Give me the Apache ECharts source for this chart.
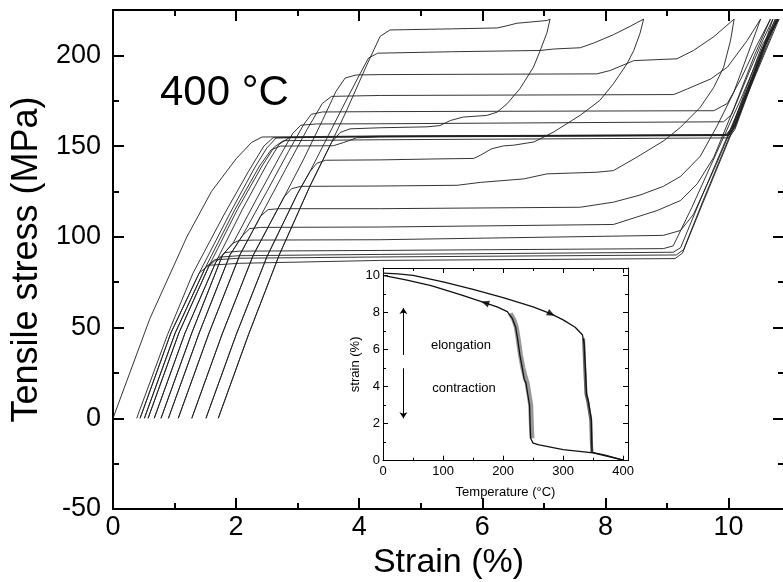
<!DOCTYPE html>
<html><head><meta charset="utf-8">
<script src="https://cdn.jsdelivr.net/npm/echarts@6/dist/echarts.min.js"></script>
<style>html,body{margin:0;padding:0;background:#fff}#c{width:783px;height:582px}</style>
</head><body><div id="c"></div>
<script>
// ---- main plot: stress-strain curves [strain %, stress MPa] ----
const c215 = [[1.71,0],[2.2,46],[2.7,90],[3.2,128],[3.55,152],[3.8,170],[4.1,193],[4.34,210.5],[4.5,214],[5.5,214.6],[6.24,215.1],[6.4,216.3],[6.56,217.7],[7.05,219.2],[7.1,220]];
const c160 = [[1.71,0],[2.2,46],[2.7,90],[3.2,128],[3.55,152],[3.69,157.5],[3.85,159.5],[4.34,160.1],[5.1,160.6],[5.31,161.3],[5.48,164.1],[5.69,166],[6.07,166.9],[6.24,168.7],[6.4,173.3],[6.61,181.6],[6.83,193.5],[6.94,202.7],[7.05,212.5],[7.1,220]];
const c201 = [[1.51,0],[2.0,46],[2.5,89],[3.0,124],[3.2,136],[3.5,156],[3.8,176],[4.0,189],[4.15,198.5],[4.3,201.2],[5.5,202],[6.94,202.7],[7.16,203.5],[7.59,204.2],[7.81,206.8],[8.13,211.4],[8.4,216],[8.62,220]];
const c142 = [[1.51,0],[2.0,46],[2.5,89],[3.0,124],[3.2,136],[3.31,140.5],[3.45,142.2],[4.34,142.4],[5.2,142.9],[5.86,143.2],[5.97,145],[6.15,148.5],[6.34,150.1],[6.51,150.5],[6.84,152.3],[7.16,157.8],[7.59,167],[7.91,175.2],[8.13,184.4],[8.35,195.4],[8.46,202.7],[8.56,212],[8.62,220]];
const c189 = [[1.28,0],[1.78,47],[2.28,90],[2.78,122],[3.1,143],[3.4,164],[3.62,180],[3.77,187.5],[3.95,189.2],[4.34,189.4],[7.86,189.8],[8.08,191.7],[8.46,197.1],[9.16,198.1],[9.43,202.7],[9.76,210.3],[10.09,220]];
const c128 = [[1.28,0],[1.78,47],[2.28,90],[2.78,122],[2.9,126.5],[3.05,127.8],[4.34,128],[5.59,128.4],[5.97,130],[6.67,131.9],[7.05,134.7],[7.86,135.6],[8.13,136.5],[8.51,143.9],[8.95,153],[9.22,160.4],[9.54,171.4],[9.76,182.4],[9.92,193.5],[10.03,208],[10.09,220]];
const c178 = [[1.06,0],[1.56,47],[2.06,90],[2.4,111.5],[2.8,137],[3.15,159],[3.4,173.5],[3.55,177.4],[4.34,177.9],[9.11,178.4],[9.33,181.5],[9.71,187],[9.98,193.5],[10.3,208.1],[10.52,220]];
const c115 = [[1.06,0],[1.56,47],[2.06,90],[2.4,111.5],[2.52,115],[2.7,115.5],[4.34,115.5],[7.59,116.3],[8.13,119.1],[8.56,123],[8.94,127.8],[9.22,133.3],[9.54,144.4],[9.81,160.9],[10.08,179.3],[10.3,199.6],[10.52,220]];
const c169 = [[0.9,0],[1.4,47],[1.9,90],[2.1,100.5],[2.5,125],[2.85,147],[3.1,162],[3.22,167.5],[3.4,168.8],[4.34,169],[9.76,169.5],[9.98,173.5],[10.2,187],[10.45,205],[10.68,220]];
const c105 = [[0.9,0],[1.4,47],[1.9,90],[2.1,100.5],[2.22,104.5],[2.4,105.2],[4.34,105.4],[8.13,106.8],[8.84,114.5],[9.22,120],[9.49,129.2],[9.76,143.9],[10.1,172],[10.42,200],[10.68,220]];
const c162 = [[0.78,0],[1.28,47],[1.78,90],[1.95,96.5],[2.35,122],[2.72,145],[2.92,157],[3.05,161.5],[3.3,162.2],[4.34,162.3],[9.92,163.4],[10.05,167.5],[10.3,188],[10.55,208],[10.72,220]];
const c98  = [[0.78,0],[1.28,47],[1.78,90],[1.95,96.5],[2.05,98],[2.3,98.2],[4.34,98.4],[8.94,100.8],[9.22,103.5],[9.43,112.4],[9.8,140],[10.2,172],[10.5,198],[10.72,220]];
const c155a = [[0.67,0],[1.17,47],[1.67,86],[2.1,115],[2.5,140],[2.7,151],[2.87,154.8],[4.34,155.3],[9.97,156.3],[10.07,160.5],[10.3,181],[10.55,204],[10.76,220]];
const c92  = [[0.67,0],[1.17,47],[1.67,86],[1.82,91.3],[2.05,92.1],[4.34,92.5],[8.94,93.5],[9.1,95],[9.4,116],[9.8,146],[10.2,176],[10.5,200],[10.76,220]];
const c153 = [[0.57,0],[1.07,47],[1.56,84],[2.02,115],[2.42,139],[2.62,149.5],[2.77,153],[4.34,153.5],[10.0,154.5],[10.1,159],[10.35,182],[10.6,205],[10.78,220]];
const c90  = [[0.57,0],[1.07,47],[1.56,84],[1.72,88.8],[2.05,89.6],[4.34,90.3],[9.1,91.5],[9.22,94],[9.5,117],[9.9,149],[10.3,181],[10.6,206],[10.78,220]];
const c150 = [[0.51,0],[1.01,47],[1.5,83],[1.98,115],[2.38,139],[2.57,148],[2.72,150],[3.58,150.2],[3.75,152],[3.96,154.6],[4.34,155],[10.0,155.8],[10.1,160],[10.35,183],[10.6,206],[10.8,220]];
const c89  = [[0.51,0],[1.01,47],[1.5,83],[1.65,87.3],[2.05,88.2],[4.34,88.9],[9.15,90],[9.27,93],[9.55,117],[9.95,150],[10.35,183],[10.8,220]];
const c155b = [[0.44,0],[0.94,47],[1.4,80],[1.9,113],[2.3,138],[2.5,149],[2.65,154.5],[4.34,155.2],[10.0,156],[10.1,161],[10.35,184],[10.6,207],[10.82,220]];
const c87  = [[0.44,0],[0.94,47],[1.4,80],[1.55,84.3],[2.05,85.4],[4.34,87],[9.13,88],[9.25,91],[9.55,116],[9.95,149],[10.35,182],[10.82,220]];
const c155c = [[0.385,0],[0.885,46],[1.3,80],[1.8,112],[2.2,136],[2.45,150],[2.6,154.6],[4.34,155.4],[9.95,156],[10.05,160],[10.3,183],[10.55,206],[10.8,220]];
const c155d = [[0,0],[0.6,55],[1.2,100],[1.6,125],[2.0,143],[2.25,152],[2.42,155],[4.34,155.6],[10.0,156.3],[10.1,161],[10.35,184],[10.6,207],[10.8,220]];

// ---- inset: strain (%) vs temperature (°C) ----
const heatT = [0,25,50,100,150,200,250,280,300,320,332,335,337,339,342,345,347,348,370,400];
const heatS = [10.12,10.08,10.0,9.65,9.25,8.8,8.3,7.92,7.6,7.2,6.8,6.3,5.0,3.6,3.2,2.6,2.2,0.45,0.3,0.03];
const coolT = [400,350,300,260,250,246,245,244,241,238,235,232,228,224,221,215,207,190,170,130,80,40,0];
const coolS = [0.03,0.42,0.6,0.85,0.95,1.2,2.0,3.0,3.6,4.2,4.4,5.0,5.7,6.6,7.2,7.7,8.05,8.3,8.52,8.95,9.45,9.75,10.0];
const coolBandT = [248,247,246,243,240,237,233,229,225,222,218,212];
const coolBandS = [1.2,2.0,3.0,3.6,4.2,4.5,5.0,5.7,6.6,7.2,7.6,7.95];
const heatBandT = [334,336,338,341,344,346,347,348];
const heatBandS = [6.6,5.0,3.6,3.2,2.6,2.2,1.0,0.45];
const arrowPts = [[170,8.52,72],[280,7.92,-116]];

const mainCurves = [c215,c160,c201,c142,c189,c128,c178,c115,c169,c105,c162,c98,c155a,c92,c153,c90,c150,c89,c155b,c87,c155c,c155d];

const FONT = "'Liberation Sans', Arial, sans-serif";
const zip = (a,b) => a.map((v,i)=>[v,b[i]]);

function axis(o){
  const base = {type:'value', splitLine:{show:false}, axisLine:{show:false, onZero:false}, axisTick:{show:false}, axisLabel:{show:false}, z:5};
  return Object.assign(base, o);
}
const line2 = {show:true, onZero:false, lineStyle:{color:'#000', width:2}};
const line1 = {show:true, onZero:false, lineStyle:{color:'#000', width:1}};
const tickMaj = {show:true, inside:true, length:11, lineStyle:{color:'#000', width:2}};
const tickMin = {show:true, inside:true, length:6, lineStyle:{color:'#000', width:2}};
const itMaj = {show:true, inside:true, length:5, lineStyle:{color:'#000', width:1}};
const itMin = {show:true, inside:true, length:3, lineStyle:{color:'#000', width:1}};

const xAxes = [
  axis({gridIndex:0, position:'bottom', min:0, max:10.9, interval:2, axisLine:line2, axisTick:tickMaj,
    axisLabel:{show:true, fontSize:27, fontFamily:FONT, color:'#000', margin:5,
      formatter:v=> (Math.abs(v%2)<1e-6 && v<=10.01) ? String(v) : ''},
    name:'Strain (%)', nameLocation:'middle', nameGap:33, nameTextStyle:{fontSize:34, fontFamily:FONT, color:'#000'}}),
  axis({gridIndex:0, position:'bottom', min:0, max:10.9, interval:1, axisTick:tickMin}),
  axis({gridIndex:0, position:'top', min:0, max:10.9, interval:2, axisLine:line2, axisTick:tickMaj}),
  axis({gridIndex:0, position:'top', min:0, max:10.9, interval:1, axisTick:tickMin}),
  axis({gridIndex:1, position:'bottom', min:0, max:408, interval:100, axisLine:line1, axisTick:itMaj,
    axisLabel:{show:true, fontSize:13, fontFamily:FONT, color:'#000', margin:4,
      formatter:v=> (v%100===0) ? String(v) : ''},
    name:'Temperature (°C)', nameLocation:'middle', nameGap:25, nameTextStyle:{fontSize:13, fontFamily:FONT, color:'#000'}}),
  axis({gridIndex:1, position:'bottom', min:0, max:408, interval:50, axisTick:itMin}),
  axis({gridIndex:1, position:'top', min:0, max:408, interval:100, axisLine:line1, axisTick:itMaj}),
  axis({gridIndex:1, position:'top', min:0, max:408, interval:50, axisTick:itMin})
];
const yAxes = [
  axis({gridIndex:0, position:'left', min:-50, max:225, interval:50, axisLine:line2, axisTick:tickMaj,
    axisLabel:{show:true, fontSize:27, fontFamily:FONT, color:'#000', margin:12,
      formatter:v=> (v%50===0 && v<=200) ? String(v) : ''},
    name:'Tensile stress (MPa)', nameLocation:'middle', nameGap:64, nameRotate:90, nameTextStyle:{fontSize:36, fontFamily:FONT, color:'#000'}}),
  axis({gridIndex:0, position:'left', min:-50, max:225, interval:25, axisTick:tickMin}),
  axis({gridIndex:0, position:'right', min:-50, max:225, interval:50, axisLine:line2, axisTick:tickMaj}),
  axis({gridIndex:0, position:'right', min:-50, max:225, interval:25, axisTick:tickMin}),
  axis({gridIndex:1, position:'left', min:0, max:10.4, interval:2, axisLine:line1, axisTick:itMaj,
    axisLabel:{show:true, fontSize:13, fontFamily:FONT, color:'#000', margin:3,
      formatter:v=> (v%2===0) ? String(v) : ''},
    name:'strain (%)', nameLocation:'middle', nameGap:15, nameRotate:90, nameTextStyle:{fontSize:13, fontFamily:FONT, color:'#000'}}),
  axis({gridIndex:1, position:'left', min:0, max:10.4, interval:1, axisTick:itMin}),
  axis({gridIndex:1, position:'right', min:0, max:10.4, interval:2, axisLine:line1, axisTick:itMaj}),
  axis({gridIndex:1, position:'right', min:0, max:10.4, interval:1, axisTick:itMin})
];

const series = mainCurves.map(d => ({
  type:'line', xAxisIndex:0, yAxisIndex:0, data:d, showSymbol:false, symbol:'none',
  lineStyle:{color:'#1e1e1e', width:0.9}, silent:true, z:3
}));
series.push(
  {type:'line', xAxisIndex:4, yAxisIndex:4, data:zip(coolBandT,coolBandS), symbol:'none', lineStyle:{color:'#999', width:5}, silent:true, z:4},
  {type:'line', xAxisIndex:4, yAxisIndex:4, data:zip(heatBandT,heatBandS), symbol:'none', lineStyle:{color:'#666', width:3}, silent:true, z:4},
  {type:'line', xAxisIndex:4, yAxisIndex:4, data:zip(coolT,coolS), symbol:'none', lineStyle:{color:'#111', width:1.3}, silent:true, z:5},
  {type:'line', xAxisIndex:4, yAxisIndex:4, data:zip(heatT,heatS), symbol:'none', lineStyle:{color:'#111', width:1.3}, silent:true, z:5},
  {type:'scatter', xAxisIndex:4, yAxisIndex:4, silent:true, z:6,
    data:arrowPts.map(p=>({value:[p[0],p[1]], symbolRotate:p[2]})),
    symbol:'triangle', symbolSize:[7,8], itemStyle:{color:'#000'}},
  {type:'line', xAxisIndex:4, yAxisIndex:4, data:[], silent:true,
    markLine:{silent:true, symbol:['none','arrow'], symbolSize:6, label:{show:false},
      lineStyle:{color:'#000', width:1, type:'solid'},
      data:[[{coord:[34,5.71]},{coord:[34,8.24]}],[{coord:[34,4.99]},{coord:[34,2.29]}]]}}
);

const chart = echarts.init(document.getElementById('c'), null, {renderer:'canvas'});
chart.setOption({
  animation:false,
  backgroundColor:'#fff',
  grid:[
    {left:113, top:10, width:671, height:499, outerBoundsMode:'none'},
    {left:383, top:268, width:245, height:192.7, outerBoundsMode:'none'}
  ],
  xAxis:xAxes,
  yAxis:yAxes,
  series:series,
  graphic:[
    {type:'text', x:160, y:93, z:10, style:{text:'400 °C', font:"42px 'Liberation Sans', Arial, sans-serif", fill:'#000', verticalAlign:'middle'}},
    {type:'text', x:461, y:345, z:10, style:{text:'elongation', font:"13px 'Liberation Sans', Arial, sans-serif", fill:'#000', align:'center', verticalAlign:'middle'}},
    {type:'text', x:464, y:388, z:10, style:{text:'contraction', font:"13px 'Liberation Sans', Arial, sans-serif", fill:'#000', align:'center', verticalAlign:'middle'}}
  ]
});
</script></body></html>
